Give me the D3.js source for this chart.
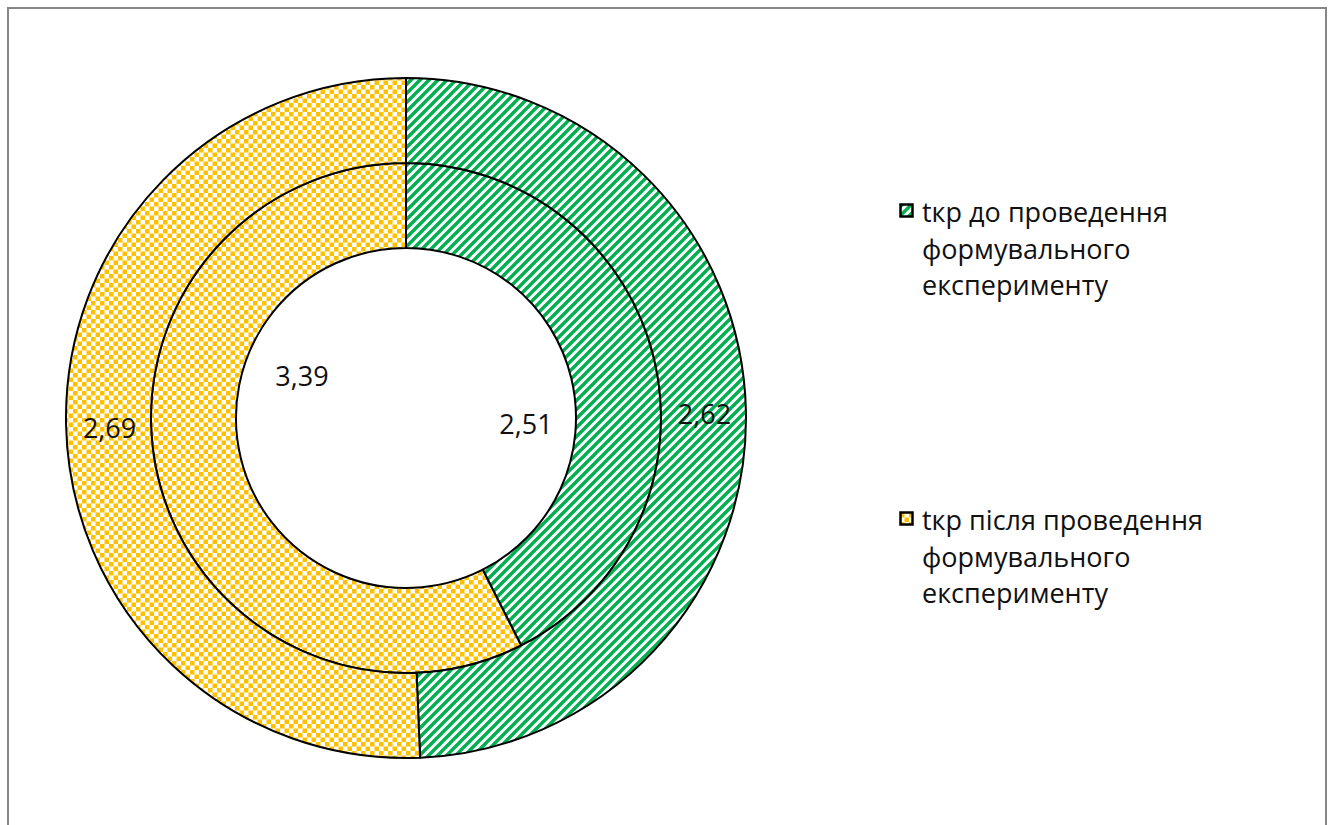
<!DOCTYPE html>
<html><head><meta charset="utf-8">
<script src="https://cdn.jsdelivr.net/npm/d3@7"></script>
<style>
body{margin:0;background:#fff;}
svg{display:block;}
text{font-family:"Open Sans",Lato,sans-serif;}
</style></head>
<body>
<svg id="chart" width="1333" height="825"></svg>
<script>
const categories = ["tкр до проведення формувального експерименту", "tкр після проведення формувального експерименту"];
const legendLines = [["tкр до проведення", "формувального", "експерименту"], ["tкр після проведення", "формувального", "експерименту"]];
const innerValues = [2.51, 3.39];
const outerValues = [2.62, 2.69];
const labelFormat = v => String(v.toFixed(2)).replace(".", ",");

const svg = d3.select("#chart");
const defs = svg.append("defs");
// diagonal green stripes
const P = 9;
const p1 = defs.append("pattern").attr("id","stripes").attr("patternUnits","userSpaceOnUse")
  .attr("width",P).attr("height",P);
p1.append("rect").attr("width",P).attr("height",P).attr("fill","#fff");
p1.append("path").attr("d",`M-2,2 L2,-2 M0,${P} L${P},0 M${P-2},${P+2} L${P+2},${P-2}`).attr("stroke","#00B050").attr("stroke-width",3.4);
// checkerboard
const p2 = defs.append("pattern").attr("id","checker").attr("patternUnits","userSpaceOnUse")
  .attr("width",P).attr("height",P);
p2.append("rect").attr("width",P).attr("height",P).attr("fill","#fff");
p2.append("rect").attr("width",P/2).attr("height",P/2).attr("fill","#FFC000");
p2.append("rect").attr("x",P/2).attr("y",P/2).attr("width",P/2).attr("height",P/2).attr("fill","#FFC000");
const fills = ["url(#stripes)", "url(#checker)"];

// frame
svg.append("rect").attr("x",8).attr("y",8).attr("width",1318).attr("height",840)
  .attr("fill","none").attr("stroke","#868686").attr("stroke-width",2);

const cx = 406, cy = 418;
const g = svg.append("g").attr("transform",`translate(${cx},${cy})`);
const pie = d3.pie().sort(null).value(d=>d);
const rings = [
  {values: innerValues, r0: 170, r1: 255, labelPos: [[120,7],[-104,-41]]},
  {values: outerValues, r0: 255, r1: 340, labelPos: null}
];
rings.forEach(ring => {
  const arc = d3.arc().innerRadius(ring.r0).outerRadius(ring.r1);
  const arcs = pie(ring.values);
  g.selectAll(null).data(arcs).enter().append("path")
    .attr("d", arc).attr("fill",(d,i)=>fills[i])
    .attr("stroke","#000").attr("stroke-width",2).attr("stroke-linejoin","round");
  ring.arcs = arcs; ring.arc = arc;
});
rings.forEach(ring => {
  g.selectAll(null).data(ring.arcs).enter().append("text")
    .attr("transform",(d,i)=>{
      const c = ring.labelPos ? ring.labelPos[i] : ring.arc.centroid(d);
      return `translate(${c[0]+(ring.labelPos?0:(i===0?1:1))},${c[1]+(ring.labelPos?0:(i===0?3:4))})`;
    })
    .attr("text-anchor","middle").attr("dy","0.35em")
    .attr("font-size",27).attr("fill","#111")
    .text(d=>labelFormat(d.data));
});

// legend
const legend = svg.append("g");
const legendY = [222, 530];
legendLines.forEach((lines,i)=>{
  legend.append("rect").attr("x",900.5).attr("y",legendY[i]-17.5).attr("width",12).attr("height",12)
    .attr("fill",fills[i]).attr("stroke","#000").attr("stroke-width",2.5);
  const t = legend.append("text").attr("x",922).attr("y",legendY[i]).attr("font-size",27).attr("fill","#111");
  lines.forEach((l,j)=>t.append("tspan").attr("x",922).attr("dy", j===0?0:36.5).text(l));
});
</script>
</body></html>
